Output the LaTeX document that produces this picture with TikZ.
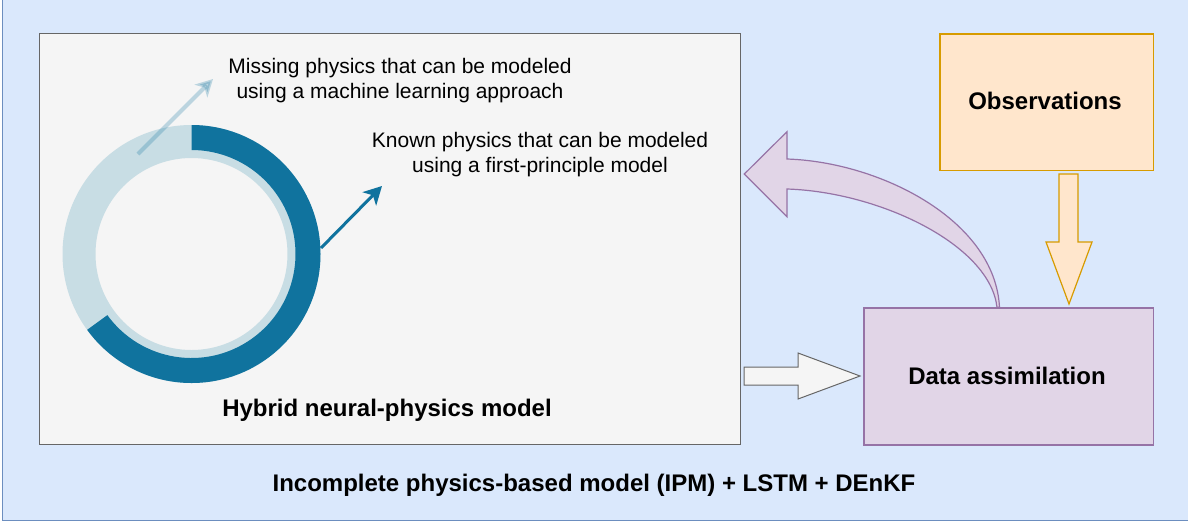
\documentclass[tikz,border=0pt]{standalone}
\usepackage{fontspec}
\setmainfont{Liberation Sans}
\usetikzlibrary{arrows.meta,calc}
\definecolor{outerfill}{HTML}{DAE8FC}
\definecolor{outerline}{HTML}{6C8EBF}
\definecolor{grayfill}{HTML}{F5F5F5}
\definecolor{grayline}{HTML}{666666}
\definecolor{obsfill}{HTML}{FFE6CC}
\definecolor{obsline}{HTML}{D79B00}
\definecolor{dafill}{HTML}{E1D5E7}
\definecolor{daline}{HTML}{9673A6}
\definecolor{ringdark}{HTML}{10739E}
\definecolor{ringlight}{HTML}{C8DDE4}
\tikzset{
  boldtext/.style={font=\fontsize{24}{29}\selectfont\bfseries, inner sep=0pt},
  plaintext/.style={font=\fontsize{21}{25}\selectfont, align=center, inner sep=0pt},
}
\begin{document}
\begin{tikzpicture}[x=1pt,y=-1pt]
\useasboundingbox (0,0) rectangle (1188,523);
\clip (0,0) rectangle (1188,523);
% outer container
\draw[fill=outerfill, draw=outerline, line width=1.3pt] (2.5,-10) rectangle (1200,520.5);
% hybrid model box
\node[draw=grayline, fill=grayfill, line width=1.3pt, minimum width=701pt, minimum height=411pt, inner sep=0pt, anchor=north west] (hyb) at (39,33) {};
% observations
\node[draw=obsline, fill=obsfill, line width=1.3pt, minimum width=213.4pt, minimum height=136.7pt, inner sep=0pt, anchor=north west] (obs) at (939.3,33.3) {};
\node[boldtext] (obstext) at (1045,101) {Observations};
% data assimilation
\node[draw=daline, fill=dafill, line width=1.3pt, minimum width=289.4pt, minimum height=137pt, inner sep=0pt, anchor=north west] (da) at (863.3,307.3) {};
\node[boldtext] (datext) at (1007,375.5) {Data assimilation};
% ring
\coordinate (c) at (191.5,254);
\fill[ringlight, even odd rule] (c) circle[radius=129] (c) circle[radius=96];
\fill[ringdark] ($(c)+(-90:129)$) arc[start angle=-90, end angle=144, radius=129]
  -- ($(c)+(144:104)$) arc[start angle=144, end angle=-90, radius=104] -- cycle;
% arrows from ring
\coordinate (la0) at (138,154);
\coordinate (la1) at (213,79);
\draw[ringdark, opacity=0.25, line width=4pt, -{Stealth[length=17pt,width=18pt,inset=5pt]}] (la0) -- (la1);
\coordinate (da0) at (321,248);
\coordinate (da1) at (382,186);
\draw[ringdark, line width=3pt, -{Stealth[length=18pt,width=19pt,inset=5pt]}] (da0) -- (da1);
% texts
\node[plaintext] (miss) at (400,80.5) {Missing physics that can be modeled\\using a machine learning approach};
\node[plaintext] (known) at (540,155) {Known physics that can be modeled\\using a first-principle model};
\node[boldtext] (hybtext) at (387,410.5) {Hybrid neural-physics model};
\node[boldtext] (caption) at (594,485) {Incomplete physics-based model (IPM) + LSTM + DEnKF};
% gray block arrow hybrid -> DA
\draw[draw=grayline, fill=grayfill, line width=1pt]
  (744,367) -- (798,367) -- (798,353) -- (860,376) -- (798,399) -- (798,385) -- (744,385) -- cycle;
% orange block arrow observations -> DA
\draw[draw=obsline, fill=obsfill, line width=1.2pt]
  (1059,174) -- (1078,174) -- (1078,242) -- (1092,242) -- (1069,304) -- (1046,242) -- (1059,242) -- cycle;
% purple curved arrow DA -> hybrid
\draw[draw=daline, fill=dafill, line width=1.2pt]
  (744.3,174) -- (787,131.7) -- (787,159) .. controls (880,162) and (995,220) .. (999.5,307.3)
  -- (997,307.3) .. controls (990,245) and (880,192) .. (787,189) -- (787,216.7) -- cycle;
\end{tikzpicture}
\end{document}
